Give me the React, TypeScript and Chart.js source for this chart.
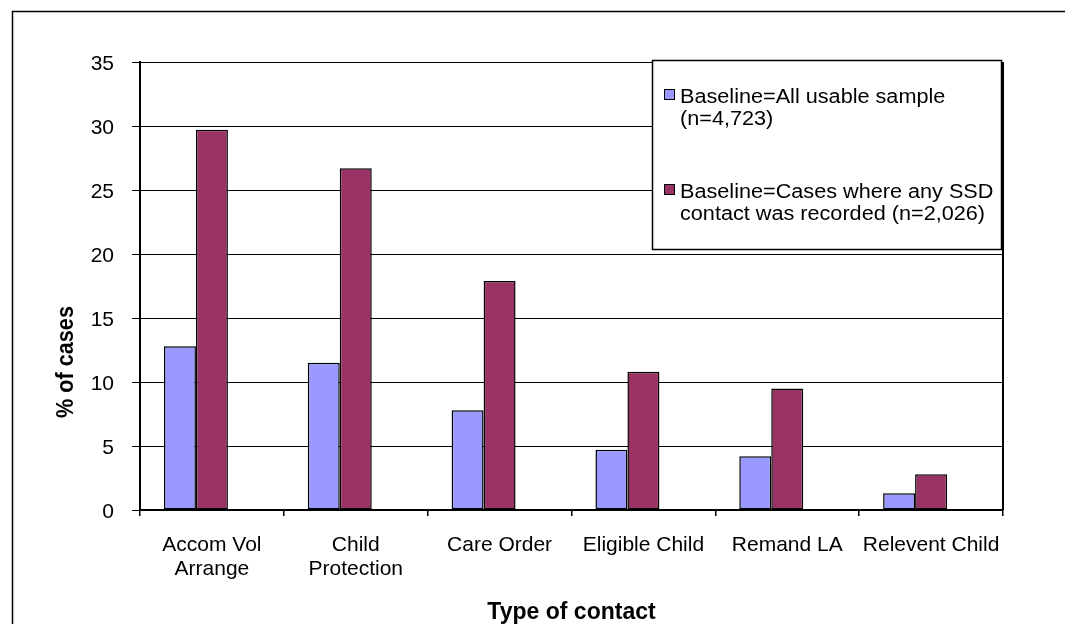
import React, { useEffect, useRef } from "react";
import { Chart, registerables } from "chart.js";

Chart.register(...registerables);

// ---- data ----
const categories: (string | string[])[] = [
  ["Accom Vol", "Arrange"],
  ["Child", "Protection"],
  "Care Order",
  "Eligible Child",
  "Remand LA",
  "Relevent Child",
];
const allUsableSample = [12.8, 11.5, 7.8, 4.7, 4.2, 1.3];
const anySsdContact = [29.7, 26.7, 17.9, 10.8, 9.5, 2.8];
const emptySeries: (number | null)[] = [null, null, null, null, null, null];
const seriesLabels: string[][] = [
  ["Baseline=All usable sample", "(n=4,723)"],
  ["Baseline=Cases where any SSD", "contact was recorded (n=2,026)"],
];
const yMin = 0;
const yMax = 35;
const yStep = 5;
const yAxisTitle = "% of cases";
const xAxisTitle = "Type of contact";

const FONT = '"Liberation Sans", Arial, Helvetica, sans-serif';

const framePlugin = {
  id: "frame",
  beforeDraw(chart: any) {
    const { ctx, width, height } = chart;
    ctx.save();
    ctx.fillStyle = "#fff";
    ctx.fillRect(0, 0, width, height);
    ctx.strokeStyle = "#000";
    ctx.lineWidth = 1.5;
    ctx.strokeRect(12.5, 11.5, width + 50, height + 50);
    ctx.restore();
  },
  afterDatasetsDraw(chart: any) {
    const { ctx, chartArea } = chart;
    ctx.save();
    ctx.strokeStyle = "#000";
    ctx.lineWidth = 2;
    ctx.beginPath();
    ctx.moveTo(chartArea.right, chartArea.top);
    ctx.lineTo(chartArea.right, chartArea.bottom);
    ctx.stroke();
    ctx.restore();
  },
  afterDraw(chart: any) {
    const { ctx } = chart;
    ctx.save();
    // y-axis title
    ctx.fillStyle = "#000";
    ctx.font = `bold 21px ${FONT}`;
    ctx.textAlign = "center";
    ctx.textBaseline = "alphabetic";
    ctx.translate(73, 362);
    ctx.rotate(-Math.PI / 2);
    ctx.scale(1.03, 1.12);
    ctx.fillText(yAxisTitle, 0, 0);
    ctx.restore();

    // legend box
    ctx.save();
    const bx = 652, by = 60, bw = 349, bh = 189;
    ctx.fillStyle = "#fff";
    ctx.fillRect(bx, by, bw, bh);
    ctx.strokeStyle = "#000";
    ctx.lineWidth = 1.5;
    ctx.strokeRect(bx + 0.5, by + 0.5, bw, bh);
    const baselines = [103, 198];
    chart.data.datasets.slice(0, 2).forEach((ds: any, i: number) => {
      const base = baselines[i];
      ctx.fillStyle = ds.backgroundColor;
      ctx.fillRect(664, base - 14, 11, 11);
      ctx.strokeStyle = "#000";
      ctx.lineWidth = 1;
      ctx.strokeRect(664.5, base - 13.5, 10, 10);
      ctx.fillStyle = "#000";
      ctx.font = `19.5px ${FONT}`;
      ctx.textAlign = "left";
      ctx.textBaseline = "alphabetic";
      const lines: string[] = Array.isArray(ds.label) ? ds.label : [ds.label];
      lines.forEach((line, j) => {
        ctx.save();
        ctx.translate(680, base + j * 22);
        ctx.scale(1.11, 1);
        ctx.fillText(line, 0, 0);
        ctx.restore();
      });
    });
    ctx.restore();
  },
};

export default function App() {
  const ref = useRef<HTMLCanvasElement | null>(null);
  useEffect(() => {
    if (!ref.current) return;
    const chart = new Chart(ref.current, {
      type: "bar",
      data: {
        labels: categories as any,
        datasets: [
          {
            label: seriesLabels[0] as any,
            data: allUsableSample,
            backgroundColor: "#9999FF",
            borderColor: "#000",
            borderWidth: 1.5,
            borderSkipped: false,
          },
          {
            label: seriesLabels[1] as any,
            data: anySsdContact,
            backgroundColor: "#993366",
            borderColor: "#000",
            borderWidth: 1.5,
            borderSkipped: false,
          },
          {
            label: "",
            data: emptySeries as any,
            backgroundColor: "#ffffff",
          },
        ],
      },
      plugins: [framePlugin],
      options: {
        responsive: false,
        animation: false,
        devicePixelRatio: 1,
        layout: { padding: { left: 0, top: 62, right: 62, bottom: 0 } },
        datasets: { bar: { categoryPercentage: 0.667, barPercentage: 1 } },
        plugins: {
          legend: { display: false },
          tooltip: { enabled: false },
          title: { display: false },
        },
        scales: {
          x: {
            offset: true,
            grid: {
              display: true,
              offset: true,
              drawOnChartArea: false,
              drawTicks: true,
              tickLength: 6,
              color: "#000",
              lineWidth: 1.5,
            },
            border: { display: true, color: "#000", width: 2 },
            ticks: {
              color: "#000",
              font: { family: FONT, size: 21, lineHeight: 1.14 },
              padding: 17,
              maxRotation: 0,
              autoSkip: false,
            },
            title: {
              display: true,
              text: xAxisTitle,
              color: "#000",
              font: { family: FONT, size: 23, weight: "bold", lineHeight: 1 },
              padding: 0,
            },
            afterFit(scale: any) {
              scale.height = 114;
            },
          },
          y: {
            min: yMin,
            max: yMax,
            grid: {
              color: "#000",
              lineWidth: 1,
              drawTicks: true,
              tickLength: 8,
            },
            border: { display: true, color: "#000", width: 2 },
            ticks: {
              stepSize: yStep,
              color: "#000",
              font: { family: FONT, size: 21 },
              padding: 18,
              labelOffset: 2,
            },
            afterFit(scale: any) {
              scale.width = 140;
            },
          },
        },
      },
    });
    return () => chart.destroy();
  }, []);
  return (
    <div style={{ position: "absolute", left: 0, top: 0, width: 1065, height: 624 }}>
      <canvas ref={ref} width={1065} height={624} />
    </div>
  );
}
